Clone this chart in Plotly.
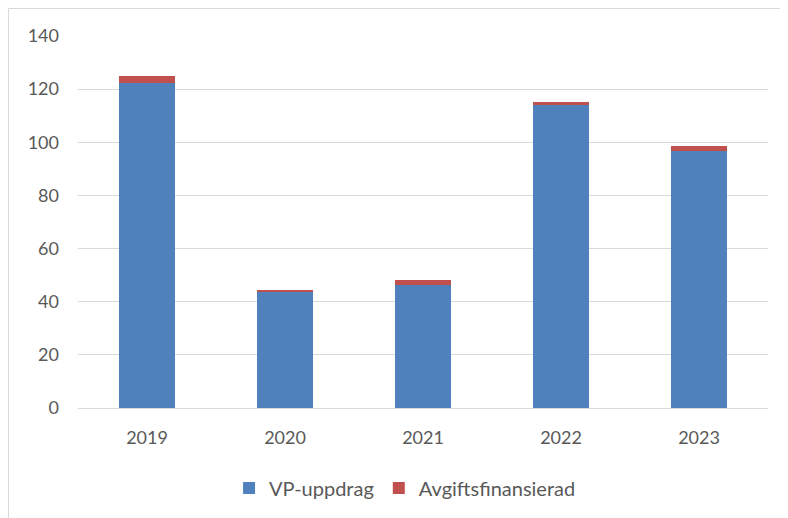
import plotly.graph_objects as go

years = ["2019", "2020", "2021", "2022", "2023"]
vp_uppdrag = [122.2, 43.5, 46.3, 114.0, 96.8]
avgiftsfinansierad = [2.7, 0.9, 1.9, 1.2, 1.8]

font_family = "Lato, 'Open Sans', sans-serif"
text_color = "#595959"

fig = go.Figure()
fig.add_trace(go.Bar(
    x=years, y=vp_uppdrag, name="VP-uppdrag",
    marker=dict(color="#4f81bd", line=dict(width=0)),
))
fig.add_trace(go.Bar(
    x=years, y=avgiftsfinansierad, name="Avgiftsfinansierad",
    marker=dict(color="#c0504d", line=dict(width=0)),
))

fig.update_layout(
    width=788, height=518,
    barmode="stack",
    bargap=0.6,
    paper_bgcolor="white",
    plot_bgcolor="white",
    margin=dict(l=70, r=28, t=28, b=118),
    font=dict(family=font_family, size=18, color=text_color),
    legend=dict(
        orientation="h", x=0.474, xanchor="center", y=-0.215, yanchor="middle",
        font=dict(size=20, color=text_color), itemsizing="constant",
        itemwidth=30, traceorder="normal",
    ),
    showlegend=True,
)
fig.update_yaxes(
    range=[0, 140], dtick=20, showgrid=True, gridcolor="#d9d9d9", gridwidth=1,
    zeroline=False, showline=False, ticks="", ticklabelstandoff=18,
    tickfont=dict(size=18, color=text_color),
)
fig.update_xaxes(
    showline=True, linecolor="#d9d9d9", linewidth=1, ticks="",
    tickfont=dict(size=18, color=text_color), ticklabelstandoff=13,
)
fig.add_shape(
    type="rect", xref="paper", yref="paper",
    x0=(0.5 - 70) / 690, x1=1.1, y0=-0.5, y1=(400 - 0.5) / 372,
    line=dict(color="#d9d9d9", width=1), layer="below",
)

fig.write_html("out.html")
